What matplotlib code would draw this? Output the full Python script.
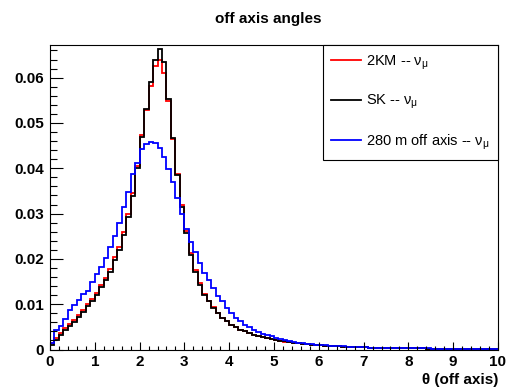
import matplotlib
matplotlib.use('Agg')
import matplotlib.pyplot as plt
from matplotlib.ticker import MultipleLocator
import numpy as np

plt.rcParams['font.family'] = ['Liberation Sans', 'DejaVu Sans']
plt.rcParams['mathtext.fontset'] = 'custom'
plt.rcParams['mathtext.rm'] = 'Liberation Sans'

# 100 bins of 0.1 in theta from 0 to 10
bin_edges = np.linspace(0.0, 10.0, 101)

sk_numu = [
    0.0009, 0.0022, 0.0033, 0.0043, 0.0052, 0.0061, 0.0072, 0.0083, 0.0095, 0.0106,
    0.0120, 0.0139, 0.0153, 0.0172, 0.0198, 0.0220, 0.0253, 0.0293, 0.0339, 0.0400,
    0.0470, 0.0530, 0.0591, 0.0638, 0.0664, 0.0634, 0.0553, 0.0466, 0.0385, 0.0315,
    0.0257, 0.0209, 0.0172, 0.0143, 0.0121, 0.0106, 0.0091, 0.0080, 0.0069, 0.0062,
    0.0054, 0.0049, 0.0043, 0.0040, 0.0036, 0.0032, 0.0030, 0.0027, 0.0025, 0.0024,
    0.0021, 0.0019, 0.0018, 0.0016, 0.0015, 0.0014, 0.0013, 0.0012, 0.0011, 0.0010,
    0.0009, 0.00085, 0.0008, 0.00075, 0.0007, 0.00065, 0.0006, 0.00055, 0.0005, 0.00048,
    0.00045, 0.00042, 0.0004, 0.00038, 0.00036, 0.00034, 0.00032, 0.0003, 0.00028, 0.00027,
    0.00026, 0.00025, 0.00024, 0.00023, 0.00022, 0.00021, 0.0002, 0.00019, 0.00018, 0.00017,
    0.00016, 0.00015, 0.00014, 0.00014, 0.00013, 0.00013, 0.00012, 0.00012, 0.00011, 0.00011,
]

km2_numu = [
    0.0014, 0.0025, 0.0036, 0.0047, 0.0056, 0.0066, 0.0077, 0.0088, 0.0100, 0.0112,
    0.0125, 0.0143, 0.0158, 0.0178, 0.0204, 0.0226, 0.0260, 0.0300, 0.0345, 0.0405,
    0.0473, 0.0528, 0.0582, 0.0625, 0.0640, 0.0610, 0.0548, 0.0465, 0.0388, 0.0320,
    0.0262, 0.0214, 0.0175, 0.0146, 0.0123, 0.0108, 0.0093, 0.0081, 0.0070, 0.0063,
    0.0055, 0.0050, 0.0044, 0.0040, 0.0036, 0.0033, 0.0030, 0.0027, 0.0025, 0.0023,
    0.0021, 0.0019, 0.0017, 0.0016, 0.0015, 0.0014, 0.0013, 0.0012, 0.0011, 0.0010,
    0.0009, 0.00085, 0.0008, 0.00075, 0.0007, 0.00065, 0.0006, 0.00055, 0.0005, 0.00048,
    0.00045, 0.00042, 0.0004, 0.00038, 0.00036, 0.00034, 0.00032, 0.0003, 0.00028, 0.00027,
    0.00026, 0.00025, 0.00024, 0.00023, 0.00022, 0.00021, 0.0002, 0.00019, 0.00018, 0.00017,
    0.00016, 0.00015, 0.00014, 0.00014, 0.00013, 0.00013, 0.00012, 0.00012, 0.00011, 0.00011,
]

m280_numu = [
    0.0015, 0.0042, 0.0051, 0.0068, 0.0087, 0.0098, 0.0109, 0.0122, 0.0129, 0.0150,
    0.0166, 0.0183, 0.0201, 0.0226, 0.0250, 0.0279, 0.0314, 0.0348, 0.0387, 0.0411,
    0.0442, 0.0453, 0.0459, 0.0455, 0.0445, 0.0425, 0.0398, 0.0370, 0.0335, 0.0298,
    0.0267, 0.0238, 0.0216, 0.0190, 0.0168, 0.0154, 0.0135, 0.0117, 0.0106, 0.0091,
    0.0080, 0.0069, 0.0062, 0.0054, 0.0049, 0.0043, 0.0038, 0.0035, 0.0031, 0.0029,
    0.0026, 0.0023, 0.0021, 0.0019, 0.0017, 0.0015, 0.0014, 0.0013, 0.0012, 0.0011,
    0.0010, 0.0009, 0.00085, 0.0008, 0.00075, 0.0007, 0.00065, 0.0006, 0.00055, 0.0005,
    0.00047, 0.00044, 0.00041, 0.00039, 0.00037, 0.00035, 0.00033, 0.00031, 0.00029, 0.00028,
    0.00027, 0.00026, 0.00025, 0.00024, 0.00023, 0.00022, 0.00021, 0.0002, 0.00019, 0.00018,
    0.00017, 0.00016, 0.00015, 0.00015, 0.00014, 0.00014, 0.00013, 0.00013, 0.00012, 0.00012,
]

labels = [r'2KM -- ν$_{\mathregular{\mu}}$',
          r'SK -- ν$_{\mathregular{\mu}}$',
          r'280 m off axis -- ν$_{\mathregular{\mu}}$']

y_ticks = [0.0, 0.01, 0.02, 0.03, 0.04, 0.05, 0.06]
y_ticklabels = ['0', '0.01', '0.02', '0.03', '0.04', '0.05', '0.06']
x_ticks = [0, 1, 2, 3, 4, 5, 6, 7, 8, 9, 10]

fig = plt.figure(figsize=(5.1, 3.9), dpi=100)
ax = fig.add_axes([50 / 510, 1 - 349.5 / 390, 448 / 510, 304.5 / 390])

ax.stairs(km2_numu, bin_edges, color='#ff0000', lw=1.3, label=labels[0])
ax.stairs(sk_numu, bin_edges, color='black', lw=1.3, label=labels[1])
ax.stairs(m280_numu, bin_edges, color='#0000ff', lw=1.3, label=labels[2])

ax.set_xlim(0, 10)
ax.set_ylim(0, 0.0672)

ax.set_xticks(x_ticks)
ax.set_xticklabels([str(t) for t in x_ticks])
ax.xaxis.set_minor_locator(MultipleLocator(0.2))
ax.set_yticks(y_ticks)
ax.set_yticklabels(y_ticklabels)
ax.yaxis.set_minor_locator(MultipleLocator(0.002))

ax.tick_params(which='both', direction='in', top=False, right=False)
ax.tick_params(axis='y', which='major', length=9.5, width=0.8, pad=4.3)
ax.tick_params(axis='y', which='minor', length=5, width=0.8)
ax.tick_params(axis='x', which='major', length=6, width=0.8, pad=4)
ax.tick_params(axis='x', which='minor', length=3, width=0.8)
for lab in ax.get_xticklabels() + ax.get_yticklabels():
    lab.set_fontsize(11)
    lab.set_fontweight('bold')
for sp in ax.spines.values():
    sp.set_linewidth(0.8)

ax.set_xlabel('θ (off axis)', fontsize=11, fontweight='bold', ha='right', va='center')
ax.xaxis.set_label_coords(1.0, -0.1)

fig.text(268.5 / 510, 1 - 18.5 / 390, 'off axis angles', fontsize=11,
         fontweight='bold', ha='center', va='center')

leg = ax.legend(loc='upper right', bbox_to_anchor=(1.0, 1.0), borderaxespad=0,
                fontsize=10.5, frameon=True, fancybox=False, edgecolor='black',
                framealpha=1, borderpad=0.55, handlelength=2.05, handletextpad=0.35,
                labelspacing=1.45)
leg.get_frame().set_linewidth(0.8)

fig.savefig('out.png', dpi=100)
